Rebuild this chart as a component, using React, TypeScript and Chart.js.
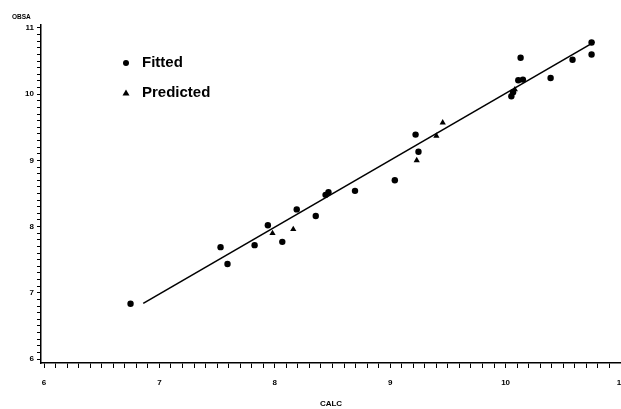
import React, { useEffect, useRef } from "react";
import { Chart, registerables } from "chart.js";

Chart.register(...registerables);

// Fitted observations (circles)
const fittedCalc = [6.75, 7.53, 7.59, 7.825, 7.94, 8.065, 8.19, 8.355, 8.44, 8.465, 8.695, 9.04, 9.22, 9.245, 10.05, 10.065, 10.13, 10.11, 10.15, 10.39, 10.58, 10.745, 10.745];
const fittedObsa = [6.835, 7.69, 7.435, 7.72, 8.02, 7.77, 8.26, 8.16, 8.48, 8.52, 8.54, 8.70, 9.39, 9.13, 9.97, 10.03, 10.55, 10.21, 10.22, 10.245, 10.52, 10.78, 10.60];

// Predicted observations (triangles)
const predCalc = [7.98, 8.16, 9.23, 9.40, 9.455, 10.08];
const predObsa = [7.90, 7.96, 9.00, 9.37, 9.57, 10.07];

// Fit line endpoints
const lineCalc = [6.86, 10.77];
const lineObsa = [6.84, 10.79];

const xMajor = [6, 7, 8, 9, 10, 11];
const yMajor = [6, 7, 8, 9, 10, 11];

const legendLabels = ["Fitted", "Predicted"];
const xTitle = "CALC";
const yTitle = "OBSA";

function minorTicks(from: number, to: number) {
  const out: { value: number }[] = [];
  for (let i = Math.round(from * 10); i <= Math.round(to * 10); i++) {
    out.push({ value: i / 10 });
  }
  return out;
}

function labelFor(v: number, majors: number[]) {
  const r = Math.round(v);
  if (Math.abs(v - r) < 1e-6 && majors.includes(r)) return String(r);
  return "";
}

const overlayPlugin = {
  id: "overlay",
  afterDraw(chart: any) {
    const ctx = chart.ctx;
    ctx.save();
    ctx.fillStyle = "#000";
    ctx.font = "bold 6.5px 'Liberation Sans', Arial, sans-serif";
    ctx.textAlign = "left";
    ctx.textBaseline = "middle";
    ctx.fillText(yTitle, 12, 17);
    ctx.font = "bold 15px 'Liberation Sans', Arial, sans-serif";
    ctx.beginPath();
    ctx.arc(126, 63, 3, 0, Math.PI * 2);
    ctx.fill();
    ctx.fillText(legendLabels[0], 142, 63);
    ctx.beginPath();
    ctx.moveTo(126, 89.5);
    ctx.lineTo(129.5, 95.5);
    ctx.lineTo(122.5, 95.5);
    ctx.closePath();
    ctx.fill();
    ctx.fillText(legendLabels[1], 142, 93);
    ctx.restore();
  },
};

export default function App() {
  const ref = useRef<HTMLCanvasElement | null>(null);
  useEffect(() => {
    document.body.style.margin = "0";
    const toPts = (xs: number[], ys: number[]) => xs.map((x, i) => ({ x, y: ys[i] }));
    const tickFont = { family: "'Liberation Sans', Arial, sans-serif", size: 8, weight: "bold" as const };
    const chart = new Chart(ref.current as HTMLCanvasElement, {
      type: "scatter",
      data: {
        datasets: [
          {
            label: "Fit",
            data: toPts(lineCalc, lineObsa),
            showLine: true,
            borderColor: "#000",
            borderWidth: 1.6,
            pointRadius: 0,
            backgroundColor: "#000",
          },
          {
            label: legendLabels[0],
            data: toPts(fittedCalc, fittedObsa),
            pointStyle: "circle",
            pointRadius: 3.2,
            backgroundColor: "#000",
            borderColor: "#000",
            borderWidth: 0,
          },
          {
            label: legendLabels[1],
            data: toPts(predCalc, predObsa),
            pointStyle: "triangle",
            pointRadius: 3.6,
            backgroundColor: "#000",
            borderColor: "#000",
            borderWidth: 0,
          },
        ],
      },
      options: {
        responsive: false,
        animation: false,
        layout: { autoPadding: false, padding: { top: 25, right: 0, left: 0, bottom: 0 } },
        plugins: { legend: { display: false }, tooltip: { enabled: false } },
        scales: {
          x: {
            type: "linear",
            min: 5.974,
            max: 11.0,
            afterBuildTicks: (s: any) => {
              s.ticks = minorTicks(6, 11);
            },
            afterFit: (s: any) => {
              s.height = 46;
              s.paddingLeft = 0;
              s.paddingRight = 0;
            },
            ticks: {
              autoSkip: false,
              maxRotation: 0,
              color: "#000",
              font: tickFont,
              padding: 10,
              callback: (v: any) => labelFor(Number(v), xMajor),
            },
            grid: { drawOnChartArea: false, drawTicks: true, tickLength: 5, color: "#000", lineWidth: 1 },
            border: { display: true, color: "#000", width: 1.5 },
            title: {
              display: true,
              text: xTitle,
              color: "#000",
              font: { family: "'Liberation Sans', Arial, sans-serif", size: 8, weight: "bold" },
              padding: { top: 0, bottom: 0 },
            },
          },
          y: {
            type: "linear",
            min: 5.94,
            max: 11.045,
            afterBuildTicks: (s: any) => {
              s.ticks = minorTicks(6, 11).reverse();
            },
            afterFit: (s: any) => {
              s.width = 41;
              s.paddingTop = 0;
              s.paddingBottom = 0;
            },
            ticks: {
              autoSkip: false,
              color: "#000",
              font: tickFont,
              padding: 3,
              callback: (v: any) => labelFor(Number(v), yMajor),
            },
            grid: { drawOnChartArea: false, drawTicks: true, tickLength: 4, color: "#000", lineWidth: 1 },
            border: { display: true, color: "#000", width: 1.5 },
          },
        },
      },
      plugins: [overlayPlugin],
    });
    return () => chart.destroy();
  }, []);
  return (
    <div style={{ width: 621, height: 409, background: "#fff" }}>
      <canvas ref={ref} width={621} height={409} style={{ display: "block" }} />
    </div>
  );
}
